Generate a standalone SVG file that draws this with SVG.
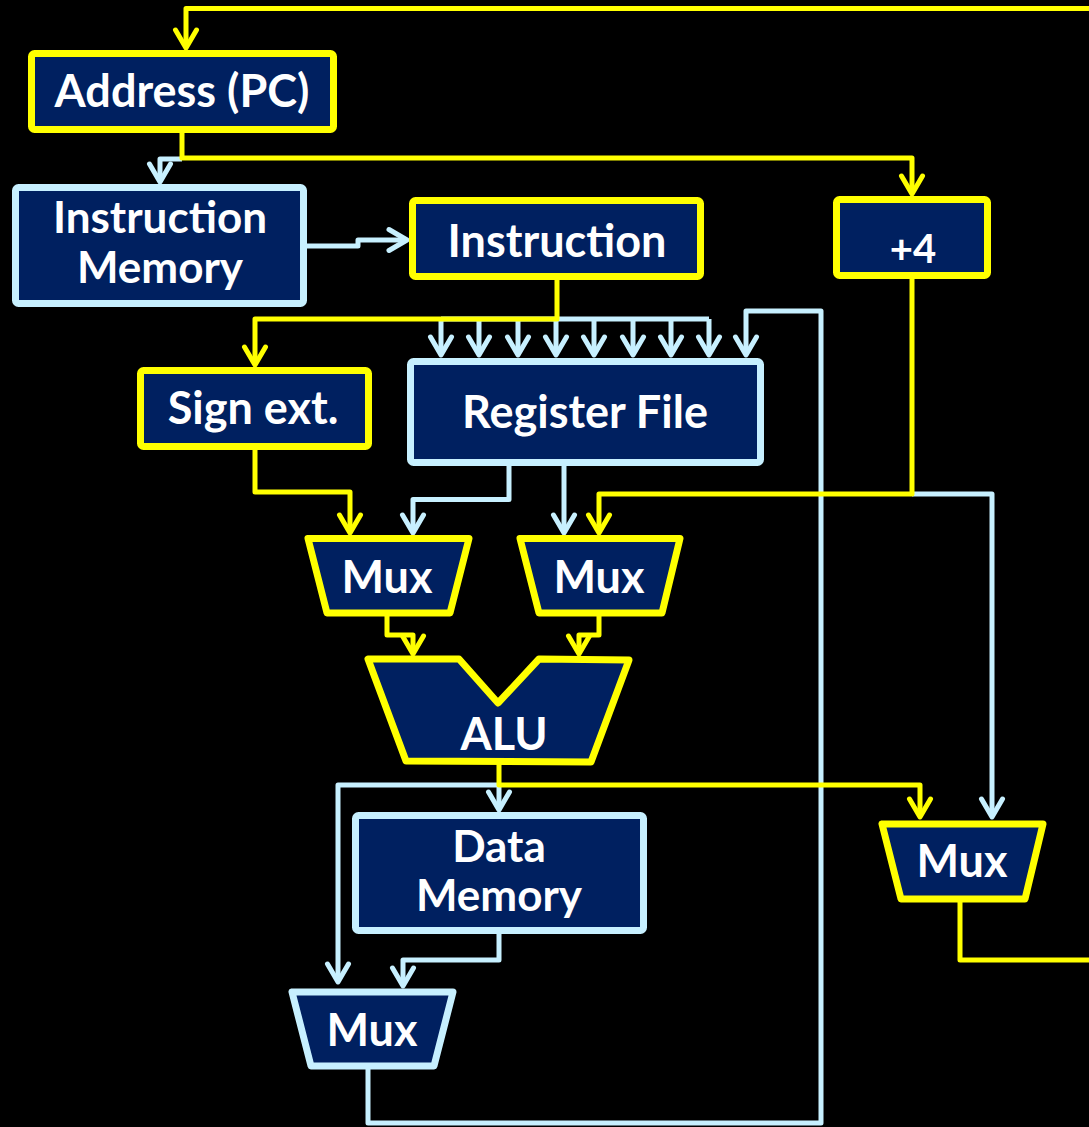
<svg xmlns="http://www.w3.org/2000/svg" width="1089" height="1127" viewBox="0 0 1089 1127">
<style>
.bg{fill:#000}
.ny{fill:#002060;stroke:#FFFF00;stroke-width:7;stroke-linejoin:round}
.nb{fill:#002060;stroke:#C7F0FF;stroke-width:7;stroke-linejoin:round}
.t{font-family:Lato,"Open Sans","DejaVu Sans",sans-serif;font-weight:bold;font-size:45px;fill:#FFFFFF;text-anchor:middle}
.t.s{font-size:40px}
.t.m{font-size:44px}
.cy{fill:none;stroke:#FFFF00;stroke-width:5;stroke-linejoin:round}
.cb{fill:none;stroke:#C7F0FF;stroke-width:5;stroke-linejoin:round}
.ay{marker-end:url(#ay)}
.ab{marker-end:url(#ab)}
</style>
<defs>
<marker id="ay" markerUnits="userSpaceOnUse" markerWidth="40" markerHeight="40" viewBox="-30 -20 40 40" refX="0" refY="0" orient="auto" overflow="visible">
<path d="M-18,-10.5 L0,0 L-18,10.5" fill="none" stroke="#FFFF00" stroke-width="5" stroke-linejoin="round" stroke-linecap="round"/>
</marker>
<marker id="ab" markerUnits="userSpaceOnUse" markerWidth="40" markerHeight="40" viewBox="-30 -20 40 40" refX="0" refY="0" orient="auto" overflow="visible">
<path d="M-18,-10.5 L0,0 L-18,10.5" fill="none" stroke="#C7F0FF" stroke-width="5" stroke-linejoin="round" stroke-linecap="round"/>
</marker>
</defs>
<rect class="bg" x="0" y="0" width="1089" height="1127"/>

<g id="connectors">
<!-- light blue connectors -->
<path class="cb ab" d="M182,159 H160 V182"/>
<path class="cb ab" d="M304,246 H358 V240 H407"/>
<path class="cb" d="M441,319 H709"/>
<path class="cb ab" d="M441,319 V355"/>
<path class="cb ab" d="M479,319 V355"/>
<path class="cb ab" d="M518,319 V355"/>
<path class="cb ab" d="M556,319 V355"/>
<path class="cb ab" d="M594,319 V355"/>
<path class="cb ab" d="M633,319 V355"/>
<path class="cb ab" d="M671,319 V355"/>
<path class="cb ab" d="M709,319 V355"/>
<path class="cb ab" d="M368,1068 V1123 H821 V311 H746 V355"/>
<path class="cb ab" d="M509,463 V499.5 H413 V533"/>
<path class="cb ab" d="M564,463 V533"/>
<path class="cb ab" d="M912,494 H992 V817"/>
<path class="cb ab" d="M499,785 V810"/>
<path class="cb ab" d="M499,785 H338 V982"/>
<path class="cb ab" d="M499,931 V960 H403 V986"/>
<!-- yellow connectors -->
<path class="cy ay" d="M1089,8.5 H186 V48"/>
<path class="cy ay" d="M182,130 V158 H912 V194"/>
<path class="cy ay" d="M557,277 V319 H255 V365"/>
<path class="cy ay" d="M255,447 V492 H350 V533"/>
<path class="cy ay" d="M912,276 V494 H599 V533"/>
<path class="cy ay" d="M387,613 V635 H413 V654"/>
<path class="cy ay" d="M599,613 V635 H579 V654"/>
<path class="cy ay" d="M499,762 V785 H920 V817"/>
<path class="cy" d="M960,899 V960 H1089"/>
</g>

<g id="address-pc">
<rect class="ny" x="31.5" y="53.5" width="302" height="76" rx="3"/>
<text class="t" x="182" y="107">Address (PC)</text>
</g>
<g id="instruction-memory">
<rect class="nb" x="15.5" y="187.5" width="288" height="116" rx="3"/>
<text class="t m" x="160" y="233">Instruction</text>
<text class="t m" x="160" y="283">Memory</text>
</g>
<g id="instruction">
<rect class="ny" x="412.5" y="200.5" width="288" height="76" rx="3"/>
<text class="t" x="557" y="257">Instruction</text>
</g>
<g id="plus4">
<rect class="ny" x="836.5" y="199.5" width="151" height="76" rx="3"/>
<text class="t s" x="913" y="263">+4</text>
</g>
<g id="sign-ext">
<rect class="ny" x="140.5" y="370.5" width="228" height="76" rx="3"/>
<text class="t" x="253" y="424">Sign ext.</text>
</g>
<g id="register-file">
<rect class="nb" x="410.5" y="361.5" width="350" height="101" rx="3"/>
<text class="t" x="585" y="428">Register File</text>
</g>
<g id="mux-a">
<polygon class="ny" points="308,538.5 469,538.5 450,613 327,613"/>
<text class="t" x="387" y="593">Mux</text>
</g>
<g id="mux-b">
<polygon class="ny" points="520,538.5 680,538.5 662,613 539,613"/>
<text class="t" x="599" y="593">Mux</text>
</g>
<g id="alu">
<polygon class="ny" points="368,659 459,659 498,703 539,659 629,660 591,762 406,761"/>
<text class="t" x="504" y="750">ALU</text>
</g>
<g id="data-memory">
<rect class="nb" x="355.5" y="815.5" width="288" height="115" rx="3"/>
<text class="t m" x="499" y="862">Data</text>
<text class="t m" x="499" y="911">Memory</text>
</g>
<g id="mux-c">
<polygon class="nb" points="292,992 453,992 434,1066 311,1066"/>
<text class="t" x="372" y="1046">Mux</text>
</g>
<g id="mux-d">
<polygon class="ny" points="882,824 1043,824 1025,899 901,899"/>
<text class="t" x="962" y="877">Mux</text>
</g>
</svg>
